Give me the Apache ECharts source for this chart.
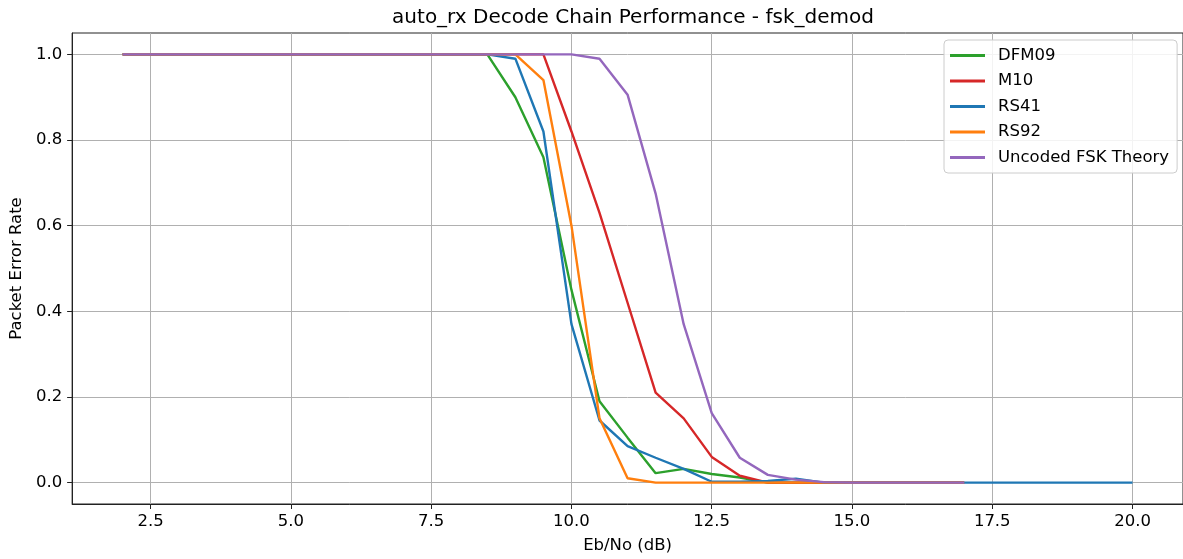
<!DOCTYPE html>
<html>
<head>
<meta charset="utf-8">
<title>auto_rx Decode Chain Performance - fsk_demod</title>
<script src="https://cdn.jsdelivr.net/npm/echarts@6/dist/echarts.min.js"></script>
<style>
  html, body { margin: 0; padding: 0; background: #fff; overflow: hidden; }
  #chart { width: 1183px; height: 559px; }
</style>
</head>
<body>
<div id="chart"></div>
<script>
// Eb/No points (dB)
const ebnoShort = [2.0, 2.5, 3.0, 3.5, 4.0, 4.5, 5.0, 5.5, 6.0, 6.5, 7.0, 7.5, 8.0, 8.5, 9.0, 9.5,
  10.0, 10.5, 11.0, 11.5, 12.0, 12.5, 13.0, 13.5, 14.0, 14.5, 15.0, 15.5, 16.0, 16.5, 17.0];
const ebnoLong = [2.0, 2.5, 3.0, 3.5, 4.0, 4.5, 5.0, 5.5, 6.0, 6.5, 7.0, 7.5, 8.0, 8.5, 9.0, 9.5,
  10.0, 10.5, 11.0, 11.5, 12.0, 12.5, 13.0, 13.5, 14.0, 14.5, 15.0, 15.5, 16.0, 16.5, 17.0,
  17.5, 18.0, 18.5, 19.0, 19.5, 20.0];

// packet error rate per decoder
const perDFM09 = [1, 1, 1, 1, 1, 1, 1, 1, 1, 1, 1, 1, 1, 1, 0.9, 0.76,
  0.45, 0.19, 0.105, 0.022, 0.032, 0.02, 0.012, 0, 0, 0, 0, 0, 0, 0, 0];
const perM10 = [1, 1, 1, 1, 1, 1, 1, 1, 1, 1, 1, 1, 1, 1, 1, 1,
  0.82, 0.63, 0.42, 0.21, 0.15, 0.06, 0.016, 0, 0, 0, 0, 0, 0, 0, 0];
const perRS41 = [1, 1, 1, 1, 1, 1, 1, 1, 1, 1, 1, 1, 1, 1, 0.99, 0.82,
  0.37, 0.145, 0.085, 0.058, 0.032, 0.002, 0.002, 0.004, 0.009, 0, 0, 0, 0, 0, 0,
  0, 0, 0, 0, 0, 0];
const perRS92 = [1, 1, 1, 1, 1, 1, 1, 1, 1, 1, 1, 1, 1, 1, 1, 0.94,
  0.6, 0.15, 0.01, 0, 0, 0, 0, 0, 0, 0, 0, 0, 0, 0, 0];
const perTheory = [1, 1, 1, 1, 1, 1, 1, 1, 1, 1, 1, 1, 1, 1, 1, 1,
  1, 0.99, 0.906, 0.675, 0.37, 0.162, 0.058, 0.018, 0.007, 0.001, 0, 0, 0, 0, 0];

const xTicks = [2.5, 5.0, 7.5, 10.0, 12.5, 15.0, 17.5, 20.0];
const yTicks = [0.0, 0.2, 0.4, 0.6, 0.8, 1.0];

function pairs(xs, ys) {
  return xs.map((x, i) => [x, ys[i]]);
}

const FONT = "DejaVu Sans";

function lineSeries(name, xs, ys, color) {
  return {
    name: name,
    type: "line",
    data: pairs(xs, ys),
    showSymbol: false,
    symbol: "none",
    animation: false,
    lineStyle: { color: color, width: 2.4 },
    itemStyle: { color: color },
  };
}

let myChart = echarts.init(document.getElementById("chart"));
myChart.setOption({
  animation: false,
  textStyle: { fontFamily: FONT },
  title: {
    text: "auto_rx Decode Chain Performance - fsk_demod",
    left: 628,
    top: 3,
    textAlign: "center",
    textStyle: { fontFamily: FONT, fontSize: 20, fontWeight: "normal", color: "#000" },
  },
  // right spine falls just outside the picture, as in the reference
  grid: {
    left: 71,
    width: 1113,
    top: 33,
    bottom: 53,
    show: true,
    borderColor: "#222",
    borderWidth: 1,
  },
  legend: {
    orient: "vertical",
    left: 944,
    top: 40,
    padding: [6, 8, 6, 6],
    itemGap: 6.5,
    itemWidth: 35,
    itemHeight: 3,
    icon: "rect",
    backgroundColor: "rgba(255,255,255,0.85)",
    borderColor: "#cccccc",
    borderWidth: 1,
    borderRadius: 4,
    textStyle: { fontFamily: FONT, fontSize: 16.5, color: "#000", lineHeight: 19, padding: [0, 0, 0, 8] },
    data: ["DFM09", "M10", "RS41", "RS92", "Uncoded FSK Theory"],
  },
  xAxis: {
    type: "value",
    min: 1.1,
    max: 20.9,
    name: "Eb/No (dB)",
    nameLocation: "middle",
    nameGap: 33,
    nameTextStyle: { fontFamily: FONT, fontSize: 16.5, color: "#000" },
    axisLine: { onZero: false, lineStyle: { color: "#222", width: 1 } },
    axisTick: { show: true, length: 5, customValues: xTicks, lineStyle: { color: "#222" } },
    axisLabel: {
      customValues: xTicks,
      margin: 9,
      fontFamily: FONT,
      fontSize: 16.5,
      color: "#000",
      formatter: (v) => v.toFixed(1),
    },
    splitLine: { show: true, lineStyle: { color: "#b0b0b0", width: 1 } },
  },
  yAxis: {
    type: "value",
    min: -0.05,
    max: 1.05,
    name: "Packet Error Rate",
    nameLocation: "middle",
    nameGap: 45,
    nameTextStyle: { fontFamily: FONT, fontSize: 16.5, color: "#000" },
    axisLine: { show: true, onZero: false, lineStyle: { color: "#222", width: 1 } },
    axisTick: { show: true, length: 5, customValues: yTicks, lineStyle: { color: "#222" } },
    axisLabel: {
      customValues: yTicks,
      margin: 10,
      fontFamily: FONT,
      fontSize: 16.5,
      color: "#000",
      formatter: (v) => v.toFixed(1),
    },
    splitLine: { show: true, lineStyle: { color: "#b0b0b0", width: 1 } },
  },
  series: [
    lineSeries("DFM09", ebnoShort, perDFM09, "#2ca02c"),
    lineSeries("M10", ebnoShort, perM10, "#d62728"),
    lineSeries("RS41", ebnoLong, perRS41, "#1f77b4"),
    lineSeries("RS92", ebnoShort, perRS92, "#ff7f0e"),
    lineSeries("Uncoded FSK Theory", ebnoShort, perTheory, "#9467bd"),
  ],
});
</script>
</body>
</html>
